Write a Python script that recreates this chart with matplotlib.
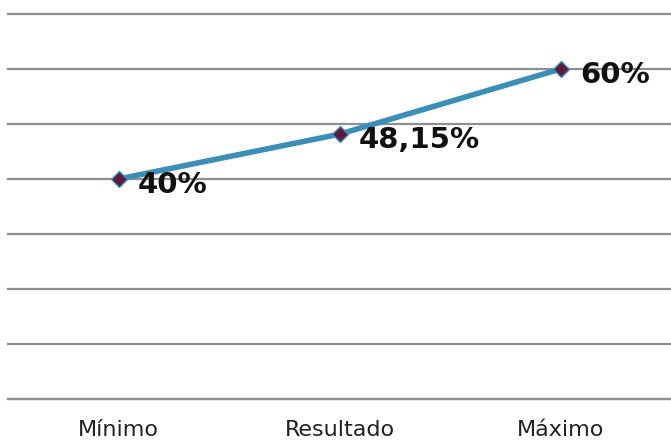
import matplotlib
matplotlib.use("Agg")
import matplotlib.pyplot as plt

categories = ["Mínimo", "Resultado", "Máximo"]
values = [40, 48.15, 60]
labels = ["40%", "48,15%", "60%"]

fig = plt.figure(figsize=(6.71, 4.45), dpi=100)
ax = fig.add_axes([8/671, 1-399/445, 1-8/671, (399-14)/445])
x = list(range(len(categories)))
ax.plot(x, values, color="#3a8fb8", lw=4, marker="D", ms=8.5,
        mfc="#5c1a3e", mec="#3a8fb8", mew=1, zorder=3, solid_capstyle="round")
for xi, v, lab in zip(x, values, labels):
    ax.annotate(lab, (xi, v), xytext=(14, -4), textcoords="offset points",
                ha="left", va="center", fontsize=21, fontweight="bold", color="#111111")
ax.set_xlim(-0.5, 2.5)
ax.set_ylim(0, 70)
ax.set_yticks(range(0, 71, 10))
ax.yaxis.grid(True, color="#8f8f8f", lw=1.6)
for gl in ax.get_ygridlines():
    gl.set_clip_on(False)
ax.set_axisbelow(True)
ax.set_yticklabels([])
ax.tick_params(axis="y", length=0)
ax.set_xticks(x)
ax.set_xticklabels(categories, fontsize=16, color="#222222")
ax.tick_params(axis="x", length=0, pad=15)
for s in ["top", "right", "left"]:
    ax.spines[s].set_visible(False)
ax.spines["bottom"].set_color("#8f8f8f")
ax.spines["bottom"].set_linewidth(1.6)
fig.savefig("out.png", dpi=100)
